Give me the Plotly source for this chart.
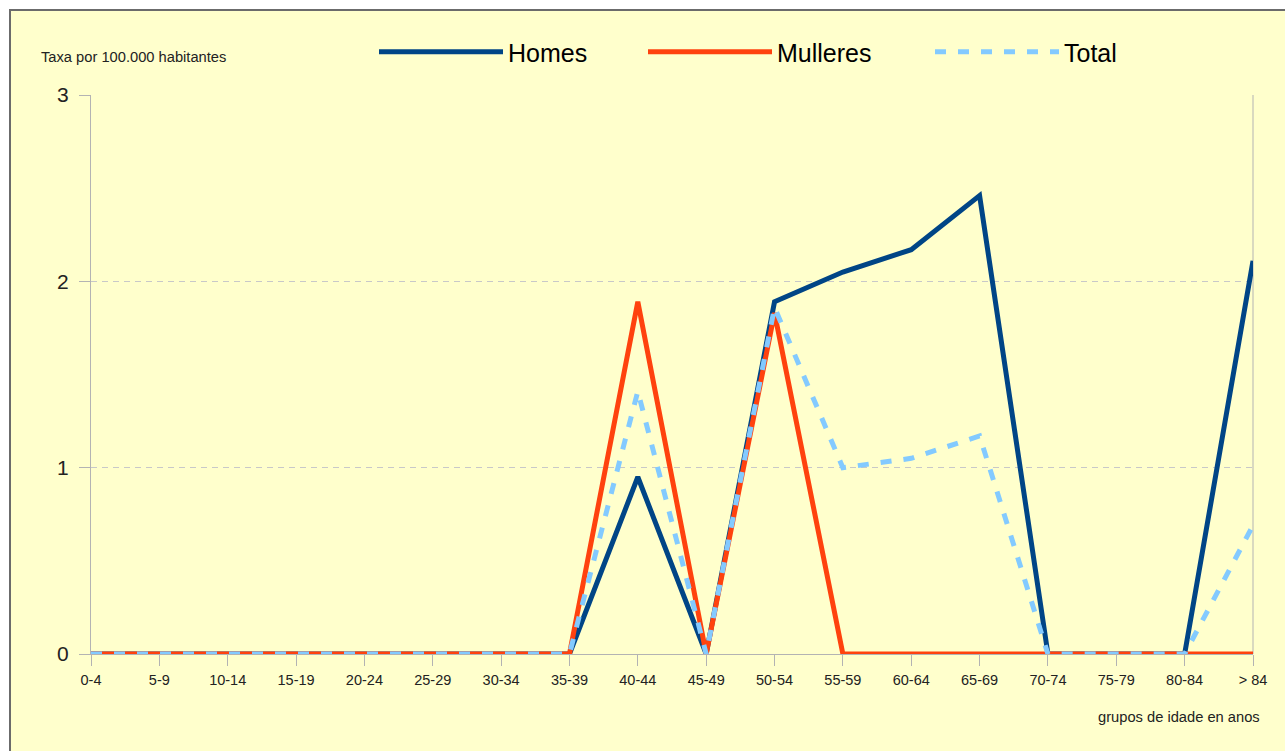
import plotly.graph_objects as go

categories = ["0-4", "5-9", "10-14", "15-19", "20-24", "25-29", "30-34", "35-39",
              "40-44", "45-49", "50-54", "55-59", "60-64", "65-69", "70-74",
              "75-79", "80-84", "> 84"]
homes = [0, 0, 0, 0, 0, 0, 0, 0, 0.95, 0, 1.89, 2.05, 2.17, 2.46, 0, 0, 0, 2.11]
mulleres = [0, 0, 0, 0, 0, 0, 0, 0, 1.89, 0, 1.83, 0, 0, 0, 0, 0, 0, 0]
total = [0, 0, 0, 0, 0, 0, 0, 0, 1.41, 0, 1.86, 1.0, 1.05, 1.17, 0, 0, 0, 0.69]
y_ticks = [0, 1, 2, 3]

W, H = 1285, 751
L, T = 91, 95
PR, PB = 1253, 654  # plot right / bottom in px
R, B = W - PR, H - PB
pw, ph = PR - L, PB - T

def px(x):  # pixel -> paper x
    return (x - L) / pw

def py(y):  # pixel -> paper y
    return (PB - y) / ph

FONT = "Liberation Sans, Arial, sans-serif"

fig = go.Figure()
fig.add_trace(go.Scatter(x=categories, y=homes, name="Homes", mode="lines",
                         line=dict(color="#004586", width=5), legendwidth=130))
fig.add_trace(go.Scatter(x=categories, y=mulleres, name="Mulleres", mode="lines",
                         line=dict(color="#ff420e", width=5), legendwidth=148))
fig.add_trace(go.Scatter(x=categories, y=total, name="Total", mode="lines",
                         line=dict(color="#83caff", width=5, dash="11px,12px"), legendwidth=80))

fig.update_layout(
    width=W, height=H,
    margin=dict(l=L, r=R, t=T, b=B),
    paper_bgcolor="white",
    plot_bgcolor="rgba(0,0,0,0)",
    font=dict(family=FONT, color="#222"),
    showlegend=True,
    legend=dict(orientation="h", x=px(374), y=py(52), xanchor="left", yanchor="middle",
                font=dict(size=25, color="black", family=FONT),
                itemwidth=124, bgcolor="rgba(0,0,0,0)"),
    xaxis=dict(type="category", range=[0, 17], showgrid=False,
               showline=True, linecolor="#b3b3b3", linewidth=1,
               ticks="outside", ticklen=11, tickcolor="#b3b3b3",
               tickfont=dict(size=14.5, color="#222"), zeroline=False,
               ticklabelstandoff=2),
    yaxis=dict(range=[0, 3], tickvals=y_ticks, showgrid=True, gridcolor="#c8c8c8",
               griddash="6px,5px", gridwidth=1,
               showline=True, linecolor="#b3b3b3", linewidth=1,
               ticks="outside", ticklen=11, tickcolor="#b3b3b3",
               tickfont=dict(size=21, color="#222"), zeroline=False,
               ticklabelstandoff=6),
)

fig.add_shape(type="rect", xref="paper", yref="paper", layer="below",
              x0=px(10), x1=px(1300), y0=py(10), y1=py(770),
              fillcolor="#ffffcc", line=dict(color="#6b6b6b", width=2))
fig.add_shape(type="line", xref="paper", yref="paper", layer="below",
              x0=1, x1=1, y0=0, y1=1, line=dict(color="#b3b3b3", width=1))

fig.add_annotation(text="Taxa por 100.000 habitantes", xref="paper", yref="paper",
                   x=px(39), y=py(57), xanchor="left", yanchor="middle", showarrow=False,
                   font=dict(size=14.7, color="#222", family=FONT))
fig.add_annotation(text="grupos de idade en anos", xref="paper", yref="paper",
                   x=px(1262), y=py(717), xanchor="right", yanchor="middle", showarrow=False,
                   font=dict(size=14.7, color="#222", family=FONT))

fig.write_html(
    "out.html",
    config={"displayModeBar": False},
    post_script=("document.body.style.margin='0';"
                 "document.body.style.overflow='hidden';"
                 "document.documentElement.style.overflow='hidden';"),
)
